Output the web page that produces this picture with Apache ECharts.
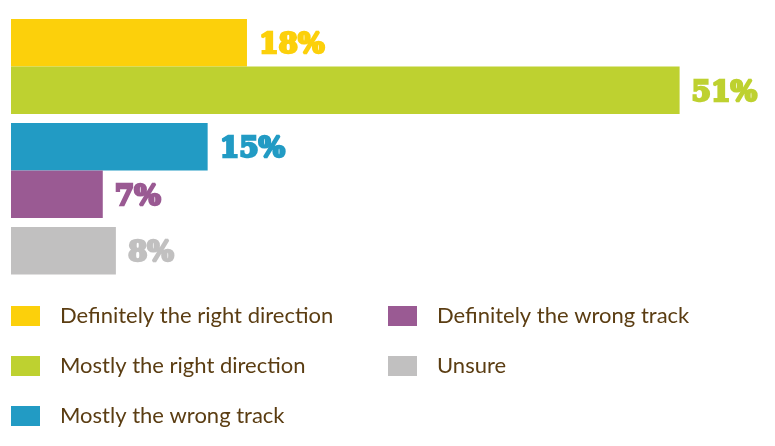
<!DOCTYPE html>
<html><head><meta charset="utf-8">
<script src="https://cdn.jsdelivr.net/npm/echarts@6/dist/echarts.min.js"></script>
<style>html,body{margin:0;padding:0;background:#fff}#c{width:775px;height:446px}</style>
</head><body><div id="c"></div>
<script>
const categories = ['Definitely the right direction', 'Mostly the right direction', 'Mostly the wrong track', 'Definitely the wrong track', 'Unsure'];
const values = [18, 51, 15, 7, 8];
const groupOf = [0, 0, 1, 1, 2];
const slotOf = ['a', 'b', 'a', 'b', 'a'];
const groups = ['g1', 'g2', 'g3'];
const colors = ['#fcd00b', '#bed130', '#229bc4', '#9a5a93', '#c1c0c0'];

const series = categories.map((name, i) => {
  const data = groups.map((g, gi) => gi === groupOf[i] ? values[i] : '-');
  return {
    name: name,
    type: 'bar',
    stack: slotOf[i],
    data: data,
    barGap: 0,
    barCategoryGap: '8.65%',
    itemStyle: { color: colors[i] },
    label: {
      show: true,
      position: 'right',
      distance: 12,
      offset: [0, 3],
      formatter: '{c}%',
      color: colors[i],
      textBorderColor: colors[i],
      textBorderWidth: 2.5,
      fontFamily: 'DejaVu Serif',
      fontWeight: 'bold',
      fontSize: 28
    }
  };
});

const legendBase = {
  orient: 'vertical',
  padding: 0,
  itemWidth: 29,
  itemHeight: 20,
  itemGap: 28,
  icon: 'rect',
  textStyle: { color: '#5b3d12', fontFamily: 'Lato', fontSize: 22, lineHeight: 20, padding: [0, 0, 0, 15] }
};

const chart = echarts.init(document.getElementById('c'), null, { renderer: 'canvas' });
chart.setOption({
  animation: false,
  grid: { left: 11, right: 1, top: 14.5, bottom: 119.5 },
  xAxis: { type: 'value', min: 0, max: 58.2, show: false },
  yAxis: { type: 'category', data: groups, inverse: true, show: false },
  legend: [
    Object.assign({}, legendBase, { left: 11, top: 305, data: categories.slice(0, 3) }),
    Object.assign({}, legendBase, { left: 388, top: 305, data: categories.slice(3) })
  ],
  series: series
});
</script></body></html>
